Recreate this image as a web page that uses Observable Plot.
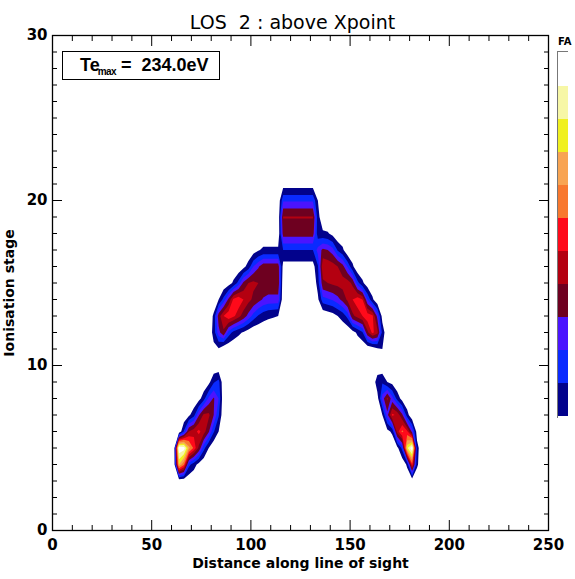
<!DOCTYPE html>
<html>
<head>
<meta charset="utf-8">
<script src="https://cdn.jsdelivr.net/npm/d3@7"></script>
<script src="https://cdn.jsdelivr.net/npm/@observablehq/plot@0.6"></script>
<style>
  body { margin: 0; background: #fff; }
  #chart { position: relative; width: 575px; height: 579px; font-family: "DejaVu Sans", "Liberation Sans", Arial, sans-serif; }
  #chart > svg.main { position: absolute; left: 0; top: 0; }
  #chart > svg.bar { position: absolute; left: 557px; top: 51px; }
  #tebox { position: absolute; left: 62px; top: 51px; width: 158px; height: 29px; border: 1px solid #000;
           font-family: "Liberation Sans", Arial, sans-serif; font-weight: bold; font-size: 18px; line-height: 27px;
           box-sizing: border-box; padding-left: 17px; white-space: nowrap; }
  #tebox sub { font-size: 10px; vertical-align: -4px; margin-left: -2px; letter-spacing: -0.6px; }
  #fa { position: absolute; left: 558px; top: 36px; font-weight: bold; font-size: 10px; }
</style>
</head>
<body>
<div id="chart"></div>
<script>
// Fractional abundance (%) per ionisation stage, sampled along the line of sight.
// Each entry: [distance, lowest stage, FA values for consecutive stages].
const lowerLeft = [
  [63.75, 4, [75, 100]],
  [66.25, 4, [60, 97, 18]],
  [68.75, 4, [20, 70, 42, 6]],
  [71.25, 4, [12, 56, 47, 14]],
  [73.75, 4, [5, 40, 52, 32, 4]],
  [76.25, 5, [20, 46, 44, 14]],
  [78.75, 5, [8, 34, 44, 27, 5]],
  [81.25, 6, [18, 33, 34, 16]],
  [83.75, 6, [8, 18, 25, 20]]
];
const upperLeft = [
  [81.25, 11, [5, 12, 10]],
  [83.75, 11, [7, 30, 38, 8]],
  [86.25, 12, [40, 50, 20]],
  [88.75, 12, [22, 56, 35, 3]],
  [91.25, 12, [14, 52, 52, 10]],
  [93.75, 12, [10, 45, 56, 20]],
  [96.25, 12, [7, 38, 50, 35, 5]],
  [98.75, 12, [3, 30, 45, 42, 12]],
  [101.25, 13, [22, 40, 44, 25, 3]],
  [103.75, 13, [16, 36, 42, 32, 7]],
  [106.25, 13, [12, 32, 40, 38, 10]],
  [108.75, 13, [10, 30, 40, 38, 10]],
  [111.25, 13, [9, 30, 40, 38, 10]],
  [113.75, 13, [8, 30, 40, 38, 10]]
];
const centre = [
  [116.25, 16, [4, 17, 37, 42.5, 24, 3]],
  [118.75, 16, [4, 17, 37, 42.5, 24, 3]],
  [121.25, 16, [4, 17, 37, 42.5, 24, 3]],
  [123.75, 16, [4, 17, 37, 42.5, 24, 3]],
  [126.25, 16, [4, 17, 37, 42.5, 24, 3]],
  [128.75, 16, [4, 17, 37, 42.5, 24, 3]],
  [131.25, 16, [4, 17, 37, 42.5, 24, 3]]
];
const upperRight = [
  [133.75, 14, [6, 12, 16, 28, 12, 12, 8, 1]],
  [136.25, 14, [22, 40, 49, 35, 10]],
  [138.75, 13, [2, 24, 42, 48, 33, 9]],
  [141.25, 13, [4, 26, 44, 46, 28, 5]],
  [143.75, 13, [8, 30, 45, 42, 16]],
  [146.25, 13, [12, 36, 46, 36, 10]],
  [148.75, 13, [20, 44, 46, 24]],
  [151.25, 12, [4, 40, 50, 40, 10]],
  [153.75, 12, [10, 45, 55, 20]],
  [156.25, 12, [16, 50, 50, 10]],
  [158.75, 12, [40, 55, 25, 2]],
  [161.25, 11, [2, 52, 52, 10]],
  [163.75, 11, [6, 45, 30]],
  [166.25, 11, [8, 14, 4]]
];
const lowerRight = [
  [163.75, 8, [4, 14]],
  [166.25, 7, [8, 28, 16]],
  [168.75, 6, [5, 30, 44, 8]],
  [171.25, 6, [10, 52, 28, 5]],
  [173.75, 5, [5, 46, 48, 14]],
  [176.25, 5, [20, 60, 35, 4]],
  [178.75, 4, [10, 80, 52, 12]],
  [181.25, 4, [55, 100, 30]],
  [183.75, 4, [10, 12, 3]]
];

// Contour levels (FA %) and their fill colours, low to high.
const levels = [8, 17, 25, 33, 42, 50, 58, 67, 75, 83, 92];
const colors = ["#02028c", "#0a2aff", "#4a14ff", "#6e0020", "#b40010", "#ff0a1a",
                "#f8782e", "#f8a452", "#f0f020", "#f7f7a6", "#ffffff"];

const xMajor = [0, 50, 100, 150, 200, 250];
const xMinor = d3.range(0, 251, 10).filter(d => d % 50);
const yMajor = [0, 10, 20, 30];
const yMinor = d3.range(0, 31, 1).filter(d => d % 10);

const titleText = "LOS \u00a02 : above Xpoint";
const xLabel = "Distance along line of sight";
const yLabel = "Ionisation stage";

// Dense grid: columns every 2.5 in distance, rows are integer stages.
const x0 = 58.75, dx = 2.5, nCols = 53;
const sMin = 2, sMax = 22, nRows = sMax - sMin + 1;
const grid = new Array(nCols * nRows).fill(0);
for (const [d, s0, vals] of [...lowerLeft, ...upperLeft, ...centre, ...upperRight, ...lowerRight]) {
  const c = Math.round((d - x0) / dx);
  vals.forEach((v, i) => { grid[(s0 + i - sMin) * nCols + c] = v; });
}

const font = '"DejaVu Sans", "Liberation Sans", Arial, sans-serif';
const colorScale = {type: "ordinal", domain: levels, range: colors};

const chart = Plot.plot({
  width: 575,
  height: 579,
  marginLeft: 52,
  marginRight: 27,
  marginTop: 35,
  marginBottom: 49,
  style: {fontFamily: font, background: "white", color: "black"},
  x: {domain: [0, 250]},
  y: {domain: [0, 30]},
  color: colorScale,
  marks: [
    Plot.contour(grid, {
      width: nCols, height: nRows,
      x1: x0 - dx / 2, x2: x0 - dx / 2 + nCols * dx,
      y1: sMin - 0.5, y2: sMax + 0.5,
      fill: Plot.identity, stroke: "none",
      thresholds: levels
    }),
    Plot.frame({stroke: "black", strokeWidth: 1.3}),
    // inward tick marks on all four sides
    Plot.axisX(xMajor, {anchor: "bottom", tickSize: -10, tickFormat: () => "", label: null}),
    Plot.axisX(xMinor, {anchor: "bottom", tickSize: -5, tickFormat: () => "", label: null}),
    Plot.axisX(xMajor, {anchor: "top", tickSize: -10, tickFormat: () => "", label: null}),
    Plot.axisX(xMinor, {anchor: "top", tickSize: -5, tickFormat: () => "", label: null}),
    Plot.axisY(yMajor, {anchor: "left", tickSize: -10, tickFormat: () => "", label: null}),
    Plot.axisY(yMinor, {anchor: "left", tickSize: -5, tickFormat: () => "", label: null}),
    Plot.axisY(yMajor, {anchor: "right", tickSize: -10, tickFormat: () => "", label: null}),
    Plot.axisY(yMinor, {anchor: "right", tickSize: -5, tickFormat: () => "", label: null}),
    // tick labels
    Plot.axisX(xMajor, {anchor: "bottom", tickSize: 0, tickPadding: 9, fontSize: 15, fontWeight: "bold", label: null}),
    Plot.axisY(yMajor, {anchor: "left", tickSize: 0, tickPadding: 5, fontSize: 15, fontWeight: "bold", label: null}),
    // titles
    Plot.text([titleText], {frameAnchor: "top", lineAnchor: "middle", textAnchor: "middle",
                            dy: -13, dx: -8, fontSize: 19, text: d => d}),
    Plot.text([xLabel], {frameAnchor: "bottom", lineAnchor: "middle", textAnchor: "middle",
                         dy: 33, fontSize: 14, fontWeight: "bold", text: d => d}),
    Plot.text([yLabel], {frameAnchor: "left", lineAnchor: "middle", textAnchor: "middle",
                         dx: -43, dy: 10, rotate: -90, fontSize: 14, fontWeight: "bold", text: d => d})
  ]
});
chart.classList.add("main");

// Colour bar for the contour levels
const bar = Plot.plot({
  width: 11,
  height: 367,
  margin: 0,
  x: {axis: null},
  y: {axis: null, type: "band", domain: [...levels].reverse(), padding: 0},
  color: colorScale,
  marks: [
    Plot.cell(levels, {y: d => d, fill: d => d}),
    Plot.frame({stroke: "#777", strokeWidth: 1})
  ]
});
bar.classList.add("bar");

const root = document.getElementById("chart");
root.appendChild(chart);
root.appendChild(bar);

const box = document.createElement("div");
box.id = "tebox";
box.innerHTML = "Te<sub>max</sub> =&nbsp; 234.0eV";
root.appendChild(box);

const fa = document.createElement("div");
fa.id = "fa";
fa.textContent = "FA";
root.appendChild(fa);
</script>
</body>
</html>
